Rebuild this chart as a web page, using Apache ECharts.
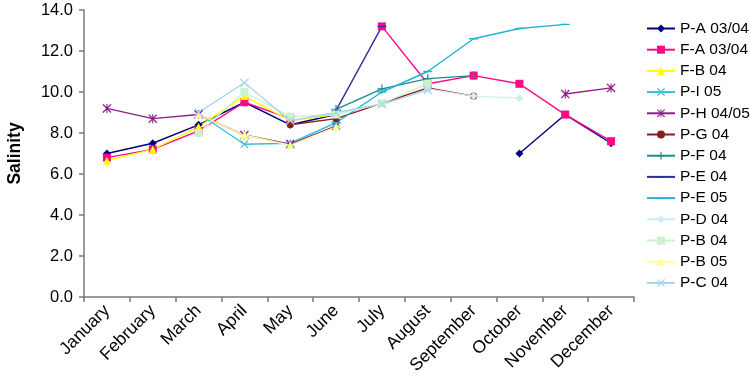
<!DOCTYPE html>
<html>
<head>
<meta charset="utf-8">
<script src="https://cdn.jsdelivr.net/npm/echarts@6/dist/echarts.min.js"></script>
<style>html,body{margin:0;padding:0;background:#fff}#c{width:750px;height:384px}</style>
</head>
<body>
<div id="c"></div>
<script>
var months = ['January','February','March','April','May','June','July','August','September','October','November','December'];
var yTicks = [0,2,4,6,8,10,12,14];
var _ = null;
var PA0304 = [7.0,7.5,8.4,9.5,8.4,8.9,_,_,_,7.0,8.9,7.5];
var FA0304 = [6.8,7.2,8.1,9.5,8.7,_,13.2,10.4,10.8,10.4,8.9,7.6];
var FB04   = [6.65,7.2,8.3,9.8,8.6,8.9,_,_,_,_,_,_];
var PI05   = [_,_,8.95,7.45,7.5,8.5,_,_,_,_,_,_];
var PH0405 = [9.2,8.7,8.9,7.9,7.45,8.35,_,_,_,_,9.9,10.2];
var PG04   = [_,_,_,_,8.4,8.7,_,10.2,9.8,_,_,_];
var PF04   = [_,_,_,_,_,9.15,10.15,10.65,10.8,_,_,_];
var PE04   = [_,_,_,_,_,9.1,13.2,_,_,_,_,_];
var PE05   = [_,_,_,_,_,8.5,10.0,11.0,12.6,13.1,13.3,_];
var PD04   = [_,_,_,_,_,_,_,10.15,9.8,9.7,_,_];
var PB04   = [_,_,8.0,10.0,8.8,8.9,9.45,10.4,_,_,_,_];
var PB05   = [_,_,8.9,7.9,7.4,8.3,_,_,_,_,_,_];
var PC04   = [_,_,9.0,10.45,8.6,9.0,9.4,10.1,_,_,_,_];

var X = 'path://M0,1L1,0L5,4L9,0L10,1L6,5L10,9L9,10L5,6L1,10L0,9L4,5Z';
var STAR = 'path://M0,1L1,0L5,4L9,0L10,1L6,5L10,9L9,10L5,6L1,10L0,9L4,5ZM4.4,0H5.6V10H4.4Z';
var PLUS = 'path://M4.3,0H5.7V4.3H10V5.7H5.7V10H4.3V5.7H0V4.3H4.3Z';
var DASH = 'path://M0,0L0,0ZM10,10L10,10ZM0,4.2H10V5.8H0Z';

var FONT = 'Arial, "Liberation Sans", sans-serif';

function s(name, data, color, symbol, size, extra) {
  var o = {
    name: name, type: 'line', data: data, symbol: symbol, symbolSize: size,
    symbolKeepAspect: true,
    showSymbol: true,
    lineStyle: {color: color, width: 1.4},
    itemStyle: {color: color},
    emphasis: {disabled: true},
    animation: false
  };
  if (extra) for (var k in extra) o[k] = extra[k];
  return o;
}

var series = [
  s('P-A 03/04', PA0304, '#000080', 'diamond', 8),
  s('F-A 03/04', FA0304, '#FF0A84', 'rect', 8),
  s('F-B 04', FB04, '#FFFF00', 'triangle', 8),
  s('P-I 05', PI05, '#38BEDD', X, 8),
  s('P-H 04/05', PH0405, '#8E1E8E', STAR, 9),
  s('P-G 04', PG04, '#8B1C1C', 'circle', 7, {connectNulls: true}),
  s('P-F 04', PF04, '#1E8C8C', PLUS, 9),
  s('P-E 04', PE04, '#2E2E9C', DASH, 9),
  s('P-E 05', PE05, '#22B2D6', DASH, 9),
  s('P-D 04', PD04, '#CDEFF3', 'diamond', 8),
  s('P-B 04', PB04, '#CCF2CC', 'rect', 8),
  s('P-B 05', PB05, '#FFFF99', 'triangle', 8),
  s('P-C 04', PC04, '#A8D4EE', X, 9)
];

var chart = echarts.init(document.getElementById('c'), null, {renderer: 'canvas'});
chart.setOption({
  animation: false,
  backgroundColor: '#ffffff',
  textStyle: {fontFamily: FONT, color: '#000'},
  grid: {left: 84, right: 116, top: 10, bottom: 87, containLabel: false, outerBoundsMode: 'none'},
  legend: {
    orient: 'vertical', left: 646, top: 20.5, padding: 0,
    itemWidth: 28, itemHeight: 10, itemGap: 5.2,
    textStyle: {fontSize: 15.5, color: '#000', fontFamily: FONT},
    data: series.map(function(x){return x.name;})
  },
  xAxis: {
    type: 'category', data: months, boundaryGap: true,
    axisLine: {lineStyle: {color: '#7a7a7a', width: 1.5}},
    axisTick: {show: true, length: 5, lineStyle: {color: '#7a7a7a', width: 1.5}},
    axisLabel: {rotate: 45, fontSize: 17.5, color: '#000', margin: 11, interval: 0, fontFamily: FONT}
  },
  yAxis: {
    type: 'value', min: 0, max: 14, interval: 2,
    name: 'Salinity', nameLocation: 'middle', nameGap: 60, nameRotate: 90,
    nameTextStyle: {fontSize: 17.5, fontWeight: 'bold', color: '#000', fontFamily: FONT},
    splitLine: {show: false},
    axisLine: {show: true, lineStyle: {color: '#7a7a7a', width: 1.5}},
    axisTick: {show: true, length: 5, lineStyle: {color: '#7a7a7a', width: 1.5}},
    axisLabel: {fontSize: 16.5, color: '#000', margin: 11, fontFamily: FONT, formatter: function(v){return v.toFixed(1);}}
  },
  series: series
});
</script>
</body>
</html>
